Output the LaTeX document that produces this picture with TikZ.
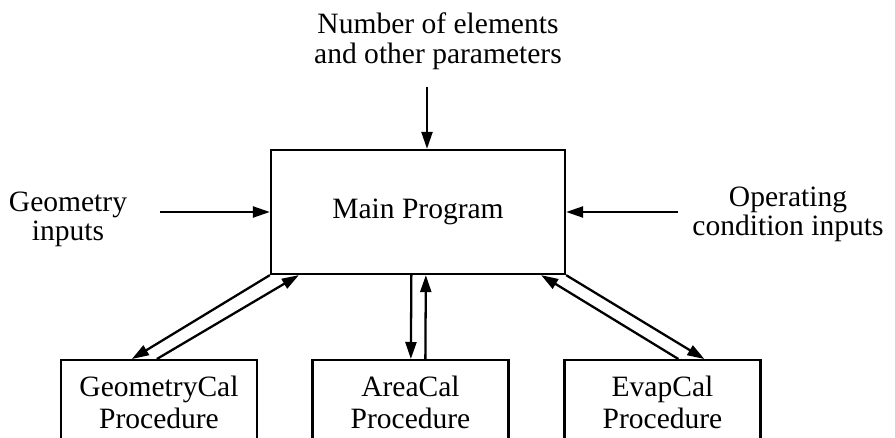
\documentclass[tikz,border=0pt]{standalone}
\usepackage{fontspec}
\setmainfont{Liberation Serif}
\usetikzlibrary{arrows.meta}
\begin{document}
\begin{tikzpicture}[>={Triangle[length=0.34cm, width=0.22cm]}, line width=1.3pt,
    hop/.style={draw, align=center, inner sep=0pt, font=\fontsize{16.8}{18.2}\selectfont},
    nhan/.style={align=center, inner sep=0pt, font=\fontsize{16.8}{16.5}\selectfont}]
    \useasboundingbox (0,0) rectangle (17.9,8.74);
    % 1. Khối chương trình chính
    \node[hop, minimum width=5.88cm, minimum height=2.48cm] (main) at (8.36,4.5) {Main Program};
    
    % 2. Các thủ tục con
    \node[hop, anchor=north, minimum width=3.92cm, minimum height=1.7cm] (geo) at (3.18,1.56) {GeometryCal\\Procedure};
    \node[hop, anchor=north, minimum width=3.92cm, minimum height=1.7cm] (area) at (8.21,1.56) {AreaCal\\Procedure};
    \node[hop, anchor=north, minimum width=3.92cm, minimum height=1.7cm] (evap) at (13.25,1.56) {EvapCal\\Procedure};
    
    % 3. Dữ liệu vào
    \node[nhan, font=\fontsize{16.8}{17}\selectfont] (num) at (8.76,7.91) {Number of elements\\and other parameters};
    \node[nhan] (geoin) at (1.36,4.36) {Geometry\\inputs};
    \node[nhan] (opin) at (15.76,4.45) {Operating\\condition inputs};
    \coordinate (numend) at (8.54,7.0);
    \coordinate (geoend) at (3.2,4.5);
    \coordinate (opend) at (13.56,4.5);
    \draw[->] (numend) -- (numend |- main.north);
    \draw[->] (geoend) -- (main.west);
    \draw[->] (opend) -- (main.east);
    
    % 4. Mũi tên hai chiều
    \draw[->] (main.south west) -- ([xshift=1.44cm]geo.north west);
    \draw[->] ([xshift=1.94cm]geo.north west) -- ([xshift=0.58cm]main.south west);
    \draw[->] ([xshift=2.83cm]main.south west) -- ([xshift=1.99cm]area.north west);
    \draw[->] ([xshift=2.28cm]area.north west) -- ([xshift=3.12cm]main.south west);
    \draw[->] (main.south east) -- ([xshift=2.82cm]evap.north west);
    \draw[->] ([xshift=2.30cm]evap.north west) -- ([xshift=-0.5cm]main.south east);
\end{tikzpicture}
\end{document}
